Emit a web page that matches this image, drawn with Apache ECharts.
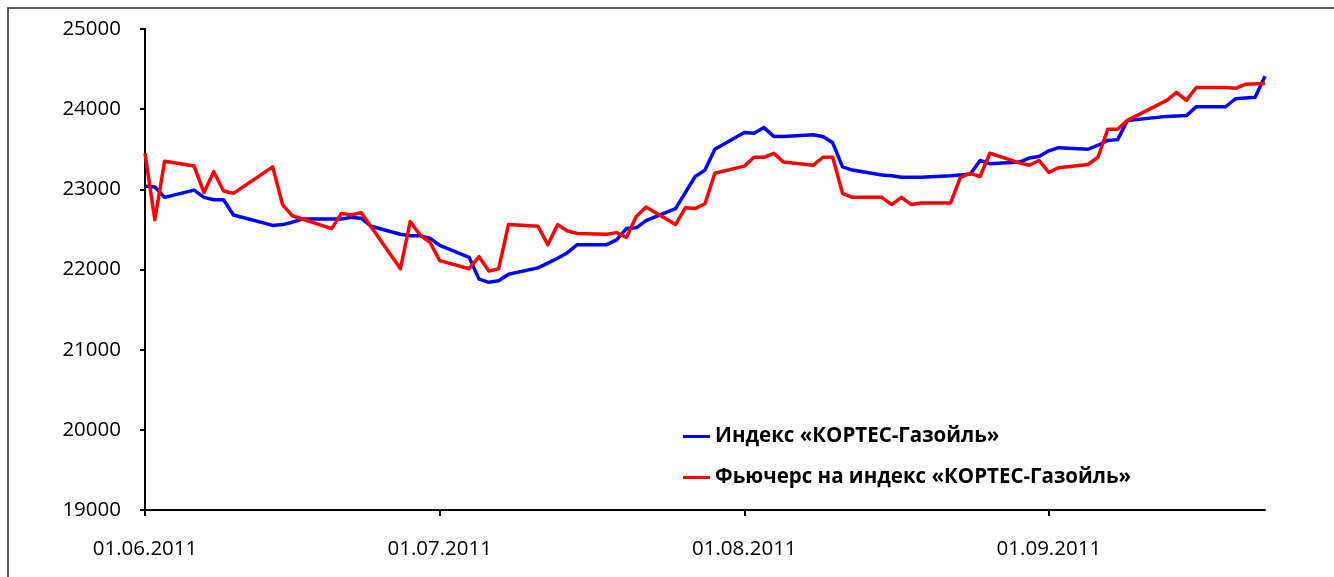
<!DOCTYPE html>
<html>
<head>
<meta charset="utf-8">
<script src="https://cdn.jsdelivr.net/npm/echarts@6/dist/echarts.min.js"></script>
<style>
html, body { margin: 0; padding: 0; background: #fff; }
#main { width: 1334px; height: 577px; }
</style>
</head>
<body>
<div id="main"></div>
<script>
var myChart = echarts.init(document.getElementById('main'));

// trading days, 2011
var dates = [
    '06-01', '06-02', '06-03', '06-06', '06-07', '06-08', '06-09', '06-10', '06-14', '06-15',
    '06-16', '06-17', '06-20', '06-21', '06-22', '06-23', '06-24', '06-27', '06-28', '06-29',
    '06-30', '07-01', '07-04', '07-05', '07-06', '07-07', '07-08', '07-11', '07-12', '07-13',
    '07-14', '07-15', '07-18', '07-19', '07-20', '07-21', '07-22', '07-25', '07-26', '07-27',
    '07-28', '07-29', '08-01', '08-02', '08-03', '08-04', '08-05', '08-08', '08-09', '08-10',
    '08-11', '08-12', '08-15', '08-16', '08-17', '08-18', '08-19', '08-22', '08-23', '08-24',
    '08-25', '08-26', '08-29', '08-30', '08-31', '09-01', '09-02', '09-05', '09-06', '09-07',
    '09-08', '09-09', '09-13', '09-14', '09-15', '09-16', '09-19', '09-20', '09-21', '09-22',
    '09-23'
];

// Индекс «КОРТЕС-Газойль»
var indexValues = [
    23040, 23030, 22900, 22990, 22900, 22870, 22870, 22680, 22550, 22560,
    22590, 22630, 22630, 22630, 22650, 22640, 22540, 22440, 22420, 22420,
    22390, 22300, 22150, 21880, 21840, 21860, 21940, 22020, 22080, 22140,
    22210, 22310, 22310, 22370, 22510, 22520, 22610, 22760, 22960, 23160,
    23240, 23500, 23710, 23700, 23770, 23660, 23660, 23680, 23660, 23580,
    23280, 23240, 23180, 23170, 23150, 23150, 23150, 23170, 23180, 23190,
    23360, 23320, 23340, 23390, 23410, 23480, 23520, 23500, 23550, 23610,
    23620, 23860, 23910, null, 23920, 24030, 24030, 24130, null, 24150,
    24410
];

// Фьючерс на индекс
var futuresValues = [
    23450, 22620, 23350, 23290, 22960, 23220, 22980, 22950, 23280, 22810,
    22670, null, 22510, 22700, 22680, 22710, null, 22010, 22600, 22430,
    22340, 22110, 22010, 22160, 21980, 22010, 22560, 22540, 22310, 22560,
    22480, 22450, 22440, 22460, 22400, 22660, 22780, 22560, 22770, 22760,
    22820, 23200, 23290, 23400, 23400, 23450, 23340, 23300, 23400, 23400,
    22950, 22900, 22900, 22810, 22900, 22810, 22830, 22830, 23150, 23200,
    23160, 23450, 23330, 23300, 23360, 23210, 23270, 23310, 23400, 23750,
    23750, 23860, 24110, 24210, 24110, 24270, 24270, 24260, 24310, null,
    24320
];

var monthStarts = ['06-01', '07-01', '08-01', '09-01'];

function toTime(s) {
    var p = s.split('-');
    return new Date(2011, +p[0] - 1, +p[1]).getTime();
}
function pad(n) { return (n < 10 ? '0' : '') + n; }

var tickValues = monthStarts.map(toTime);
var indexData = dates.map(function (d, i) { return [toTime(d), indexValues[i]]; });
var futuresData = dates.map(function (d, i) { return [toTime(d), futuresValues[i]]; });

var labelFont = '"Open Sans", "DejaVu Sans", sans-serif';

option = {
    backgroundColor: '#fff',
    animation: false,
    grid: {
        left: 145,
        right: 69,
        top: 29,
        bottom: 67
    },
    graphic: [{
        type: 'rect',
        shape: { x: 8, y: 8, width: 1340, height: 590 },
        style: { fill: 'none', stroke: '#222', lineWidth: 1.5 },
        silent: true
    }],
    legend: {
        orient: 'vertical',
        left: 683,
        top: 426,
        padding: 0,
        itemWidth: 27,
        itemHeight: 3,
        itemGap: 20,
        icon: 'rect',
        textStyle: {
            fontFamily: labelFont,
            fontWeight: 'bold',
            fontSize: 20.5,
            color: '#000',
            lineHeight: 20
        },
        data: ['Индекс «КОРТЕС-Газойль»', 'Фьючерс на индекс «КОРТЕС-Газойль»']
    },
    xAxis: {
        type: 'value',
        min: toTime('06-01'),
        max: toTime('09-23'),
        splitLine: { show: false },
        axisLine: { show: true, lineStyle: { color: '#000', width: 2 } },
        axisTick: {
            show: true,
            length: 6,
            customValues: tickValues,
            lineStyle: { color: '#000', width: 2 }
        },
        axisLabel: {
            customValues: tickValues,
            margin: 29,
            fontFamily: labelFont,
            fontSize: 20.5,
            color: '#000',
            formatter: function (v) {
                var d = new Date(v);
                return pad(d.getDate()) + '.' + pad(d.getMonth() + 1) + '.' + d.getFullYear();
            }
        }
    },
    yAxis: {
        type: 'value',
        min: 19000,
        max: 25000,
        interval: 1000,
        splitLine: { show: false },
        axisLine: { show: true, lineStyle: { color: '#000', width: 2 } },
        axisTick: { show: true, length: 5, lineStyle: { color: '#000', width: 2 } },
        axisLabel: {
            margin: 24,
            fontFamily: labelFont,
            fontSize: 20.5,
            color: '#000',
            formatter: function (v) { return String(v); }
        }
    },
    series: [
        {
            name: 'Индекс «КОРТЕС-Газойль»',
            type: 'line',
            data: indexData,
            showSymbol: false,
            symbol: 'none',
            connectNulls: true,
            itemStyle: { color: '#0000FF' },
            lineStyle: { color: '#0000FF', width: 3.5, join: 'round' }
        },
        {
            name: 'Фьючерс на индекс «КОРТЕС-Газойль»',
            type: 'line',
            data: futuresData,
            showSymbol: false,
            symbol: 'none',
            connectNulls: true,
            itemStyle: { color: '#FF0000' },
            lineStyle: { color: '#FF0000', width: 3.5, join: 'round' }
        }
    ]
};

myChart.setOption(option);
</script>
</body>
</html>
